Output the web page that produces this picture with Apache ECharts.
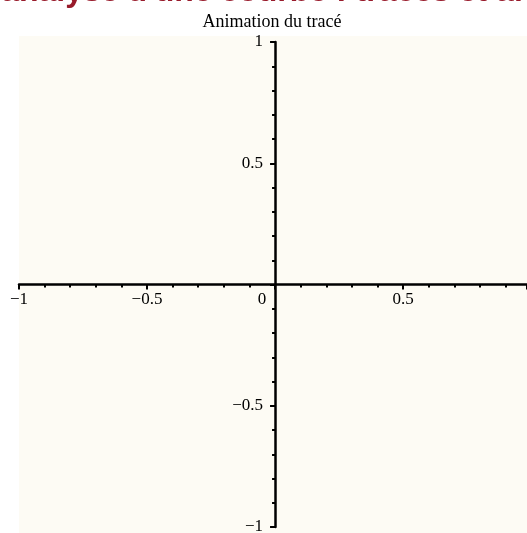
<!DOCTYPE html>
<html>
<head>
<meta charset="utf-8">
<script src="https://cdn.jsdelivr.net/npm/echarts@6/dist/echarts.min.js"></script>
<style>
  html, body { margin: 0; padding: 0; background: #ffffff; }
  #chart { width: 527px; height: 533px; }
</style>
</head>
<body>
<div id="chart"></div>
<script>
// Page banner and plot caption
const bannerText = "Étude des cas d'analyse d'une courbe : tracés et analyse graphique";
const plotTitle = "Animation du tracé";

// Axis ranges and tick layout
const xRange = [-1, 0.984];
const yRange = [-1, 1];
const majorStep = 0.5;
const minorPerMajor = 5;

// Traced points (first frame of the animation: nothing drawn yet)
const traceX = [];
const traceY = [];

const serif = "'Liberation Serif', 'DejaVu Serif', serif";

// Plot box
const W = 527, H = 533;
const gridBox = { left: 19, right: 0, top: 42, bottom: 6 };
const plotW = W - gridBox.left - gridBox.right;
const plotH = H - gridBox.top - gridBox.bottom;

// Shift both axes so they cross at the origin (labels travel with them)
const yAxisShift = -((0 - xRange[0]) / (xRange[1] - xRange[0])) * plotW;
const xAxisShift = -((0 - yRange[0]) / (yRange[1] - yRange[0])) * plotH;

function fmt(v) {
  const s = String(Math.round(v * 100) / 100);
  return s.replace('-', '\u2212');
}

const chart = echarts.init(document.getElementById('chart'), null, { renderer: 'canvas' });

const axisLine = { onZero: false, lineStyle: { color: '#000', width: 2.5 } };
const majorTick = { show: true, length: 5, lineStyle: { color: '#000', width: 2 } };
const minorTick = { show: true, splitNumber: minorPerMajor, length: 3, lineStyle: { color: '#000', width: 2 } };

chart.setOption({
  animation: false,
  backgroundColor: '#ffffff',
  title: [
    {
      text: bannerText,
      left: 'center',
      top: -29,
      textStyle: { fontFamily: "'Liberation Sans', Arial, sans-serif", fontWeight: 'bold', fontSize: 32, color: '#981b2b' }
    },
    {
      text: plotTitle,
      left: 267,
      textAlign: 'center',
      top: 8,
      textStyle: { fontFamily: serif, fontWeight: 'normal', fontSize: 18, color: '#000' }
    }
  ],
  graphic: [
    { type: 'rect', z: -10, silent: true, shape: { x: 19, y: 36, width: 508, height: 497 }, style: { fill: '#fdfbf4' } }
  ],
  grid: Object.assign({ containLabel: false, outerBoundsMode: 'none' }, gridBox),
  xAxis: {
    type: 'value',
    position: 'bottom',
    offset: xAxisShift,
    min: xRange[0],
    max: xRange[1],
    interval: majorStep,
    axisLine: axisLine,
    axisTick: majorTick,
    minorTick: minorTick,
    splitLine: { show: false },
    axisLabel: {
      margin: 7,
      showMaxLabel: false,
      fontFamily: serif,
      fontSize: 17,
      color: '#000',
      formatter: v => (v === 0 ? '{o|0}' : fmt(v)),
      rich: { o: { fontFamily: serif, fontSize: 17, color: '#000', padding: [0, 26, 0, 0] } }
    }
  },
  yAxis: {
    type: 'value',
    position: 'left',
    offset: yAxisShift,
    min: yRange[0],
    max: yRange[1],
    interval: majorStep,
    axisLine: axisLine,
    axisTick: majorTick,
    minorTick: minorTick,
    splitLine: { show: false },
    axisLabel: {
      margin: 12,
      fontFamily: serif,
      fontSize: 17,
      color: '#000',
      formatter: v => (v === 0 ? '' : fmt(v))
    }
  },
  series: [
    {
      type: 'line',
      data: traceX.map((x, i) => [x, traceY[i]]),
      showSymbol: false,
      lineStyle: { color: '#ff0000', width: 2 }
    }
  ]
});
</script>
</body>
</html>
